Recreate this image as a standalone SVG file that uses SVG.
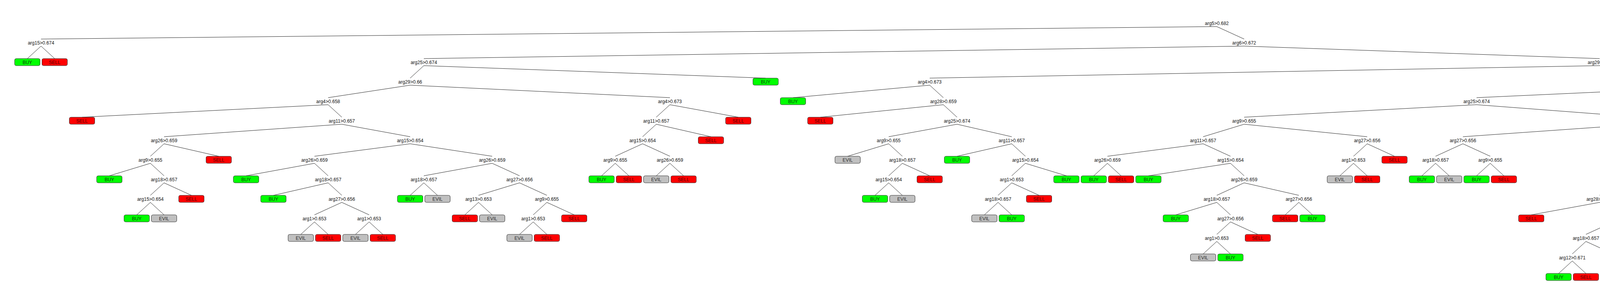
<svg xmlns="http://www.w3.org/2000/svg" width="6230" height="750" viewBox="0 0 6230 750">
<style>
.e line{stroke:#222;stroke-width:1}
text{font-family:"Liberation Sans",Arial,sans-serif;font-size:12px;text-anchor:middle}
.n text{fill:#111}
.lf rect{stroke:#333;stroke-width:1}
.buy rect{fill:#00ff00}
.buy text{fill:#0a3a0a}
.sell rect{fill:#ff0000}
.sell text{fill:#4d0000}
.evil rect{fill:#c0c0c0}
.evil text{fill:#2a2a2a}
</style>
<rect width="6230" height="750" fill="#fff"/>
<g id="connectors" class="e">
<line x1="3115" y1="68" x2="105" y2="100"/><line x1="3115" y1="68" x2="3185" y2="100"/>
<line x1="105" y1="118" x2="70" y2="150"/><line x1="105" y1="118" x2="140" y2="150"/>
<line x1="3185" y1="118" x2="1085" y2="150"/><line x1="3185" y1="118" x2="4095" y2="150"/>
<line x1="1085" y1="168" x2="1050" y2="200"/><line x1="1085" y1="168" x2="1960" y2="200"/>
<line x1="1050" y1="218" x2="840" y2="250"/><line x1="1050" y1="218" x2="1715" y2="250"/>
<line x1="840" y1="268" x2="210" y2="300"/><line x1="840" y1="268" x2="875" y2="300"/>
<line x1="875" y1="318" x2="420" y2="350"/><line x1="875" y1="318" x2="1050" y2="350"/>
<line x1="420" y1="368" x2="385" y2="400"/><line x1="420" y1="368" x2="560" y2="400"/>
<line x1="385" y1="418" x2="280" y2="450"/><line x1="385" y1="418" x2="420" y2="450"/>
<line x1="420" y1="468" x2="385" y2="500"/><line x1="420" y1="468" x2="490" y2="500"/>
<line x1="385" y1="518" x2="350" y2="550"/><line x1="385" y1="518" x2="420" y2="550"/>
<line x1="1050" y1="368" x2="805" y2="400"/><line x1="1050" y1="368" x2="1260" y2="400"/>
<line x1="805" y1="418" x2="630" y2="450"/><line x1="805" y1="418" x2="840" y2="450"/>
<line x1="840" y1="468" x2="700" y2="500"/><line x1="840" y1="468" x2="875" y2="500"/>
<line x1="875" y1="518" x2="805" y2="550"/><line x1="875" y1="518" x2="945" y2="550"/>
<line x1="805" y1="568" x2="770" y2="600"/><line x1="805" y1="568" x2="840" y2="600"/>
<line x1="945" y1="568" x2="910" y2="600"/><line x1="945" y1="568" x2="980" y2="600"/>
<line x1="1260" y1="418" x2="1085" y2="450"/><line x1="1260" y1="418" x2="1330" y2="450"/>
<line x1="1085" y1="468" x2="1050" y2="500"/><line x1="1085" y1="468" x2="1120" y2="500"/>
<line x1="1330" y1="468" x2="1225" y2="500"/><line x1="1330" y1="468" x2="1400" y2="500"/>
<line x1="1225" y1="518" x2="1190" y2="550"/><line x1="1225" y1="518" x2="1260" y2="550"/>
<line x1="1400" y1="518" x2="1365" y2="550"/><line x1="1400" y1="518" x2="1470" y2="550"/>
<line x1="1365" y1="568" x2="1330" y2="600"/><line x1="1365" y1="568" x2="1400" y2="600"/>
<line x1="1715" y1="268" x2="1680" y2="300"/><line x1="1715" y1="268" x2="1890" y2="300"/>
<line x1="1680" y1="318" x2="1645" y2="350"/><line x1="1680" y1="318" x2="1820" y2="350"/>
<line x1="1645" y1="368" x2="1575" y2="400"/><line x1="1645" y1="368" x2="1715" y2="400"/>
<line x1="1575" y1="418" x2="1540" y2="450"/><line x1="1575" y1="418" x2="1610" y2="450"/>
<line x1="1715" y1="418" x2="1680" y2="450"/><line x1="1715" y1="418" x2="1750" y2="450"/>
<line x1="4095" y1="168" x2="2380" y2="200"/><line x1="4095" y1="168" x2="4480" y2="200"/>
<line x1="2380" y1="218" x2="2030" y2="250"/><line x1="2380" y1="218" x2="2415" y2="250"/>
<line x1="2415" y1="268" x2="2100" y2="300"/><line x1="2415" y1="268" x2="2450" y2="300"/>
<line x1="2450" y1="318" x2="2275" y2="350"/><line x1="2450" y1="318" x2="2590" y2="350"/>
<line x1="2275" y1="368" x2="2170" y2="400"/><line x1="2275" y1="368" x2="2310" y2="400"/>
<line x1="2310" y1="418" x2="2275" y2="450"/><line x1="2310" y1="418" x2="2380" y2="450"/>
<line x1="2275" y1="468" x2="2240" y2="500"/><line x1="2275" y1="468" x2="2310" y2="500"/>
<line x1="2590" y1="368" x2="2450" y2="400"/><line x1="2590" y1="368" x2="2625" y2="400"/>
<line x1="2625" y1="418" x2="2590" y2="450"/><line x1="2625" y1="418" x2="2730" y2="450"/>
<line x1="2590" y1="468" x2="2555" y2="500"/><line x1="2590" y1="468" x2="2660" y2="500"/>
<line x1="2555" y1="518" x2="2520" y2="550"/><line x1="2555" y1="518" x2="2590" y2="550"/>
<line x1="4480" y1="218" x2="3780" y2="250"/><line x1="4480" y1="218" x2="5495" y2="250"/>
<line x1="3780" y1="268" x2="3185" y2="300"/><line x1="3780" y1="268" x2="4200" y2="300"/>
<line x1="3185" y1="318" x2="3080" y2="350"/><line x1="3185" y1="318" x2="3500" y2="350"/>
<line x1="3080" y1="368" x2="2835" y2="400"/><line x1="3080" y1="368" x2="3150" y2="400"/>
<line x1="2835" y1="418" x2="2800" y2="450"/><line x1="2835" y1="418" x2="2870" y2="450"/>
<line x1="3150" y1="418" x2="2940" y2="450"/><line x1="3150" y1="418" x2="3185" y2="450"/>
<line x1="3185" y1="468" x2="3115" y2="500"/><line x1="3185" y1="468" x2="3325" y2="500"/>
<line x1="3115" y1="518" x2="3010" y2="550"/><line x1="3115" y1="518" x2="3150" y2="550"/>
<line x1="3150" y1="568" x2="3115" y2="600"/><line x1="3150" y1="568" x2="3220" y2="600"/>
<line x1="3115" y1="618" x2="3080" y2="650"/><line x1="3115" y1="618" x2="3150" y2="650"/>
<line x1="3325" y1="518" x2="3290" y2="550"/><line x1="3325" y1="518" x2="3360" y2="550"/>
<line x1="3500" y1="368" x2="3465" y2="400"/><line x1="3500" y1="368" x2="3570" y2="400"/>
<line x1="3465" y1="418" x2="3430" y2="450"/><line x1="3465" y1="418" x2="3500" y2="450"/>
<line x1="4200" y1="318" x2="3745" y2="350"/><line x1="4200" y1="318" x2="4340" y2="350"/>
<line x1="3745" y1="368" x2="3675" y2="400"/><line x1="3745" y1="368" x2="3815" y2="400"/>
<line x1="3675" y1="418" x2="3640" y2="450"/><line x1="3675" y1="418" x2="3710" y2="450"/>
<line x1="3815" y1="418" x2="3780" y2="450"/><line x1="3815" y1="418" x2="3850" y2="450"/>
<line x1="4340" y1="368" x2="4305" y2="400"/><line x1="4340" y1="368" x2="4760" y2="400"/>
<line x1="4305" y1="418" x2="4130" y2="450"/><line x1="4305" y1="418" x2="4550" y2="450"/>
<line x1="4130" y1="468" x2="4095" y2="500"/><line x1="4130" y1="468" x2="4340" y2="500"/>
<line x1="4095" y1="518" x2="3920" y2="550"/><line x1="4095" y1="518" x2="4130" y2="550"/>
<line x1="4130" y1="568" x2="4060" y2="600"/><line x1="4130" y1="568" x2="4235" y2="600"/>
<line x1="4060" y1="618" x2="4025" y2="650"/><line x1="4060" y1="618" x2="4130" y2="650"/>
<line x1="4025" y1="668" x2="3990" y2="700"/><line x1="4025" y1="668" x2="4060" y2="700"/>
<line x1="4235" y1="618" x2="4200" y2="650"/><line x1="4235" y1="618" x2="4270" y2="650"/>
<line x1="4550" y1="468" x2="4515" y2="500"/><line x1="4550" y1="468" x2="4690" y2="500"/>
<line x1="4515" y1="518" x2="4410" y2="550"/><line x1="4515" y1="518" x2="4550" y2="550"/>
<line x1="4550" y1="568" x2="4515" y2="600"/><line x1="4550" y1="568" x2="4620" y2="600"/>
<line x1="4515" y1="618" x2="4480" y2="650"/><line x1="4515" y1="618" x2="4550" y2="650"/>
<line x1="5495" y1="268" x2="5005" y2="300"/><line x1="5495" y1="268" x2="5705" y2="300"/>
<line x1="5005" y1="318" x2="4970" y2="350"/><line x1="5005" y1="318" x2="5180" y2="350"/>
<line x1="4970" y1="368" x2="4830" y2="400"/><line x1="4970" y1="368" x2="5005" y2="400"/>
<line x1="5005" y1="418" x2="4970" y2="450"/><line x1="5005" y1="418" x2="5110" y2="450"/>
<line x1="4970" y1="468" x2="4900" y2="500"/><line x1="4970" y1="468" x2="5005" y2="500"/>
<line x1="5005" y1="518" x2="4970" y2="550"/><line x1="5005" y1="518" x2="5040" y2="550"/>
<line x1="5705" y1="318" x2="5460" y2="350"/><line x1="5705" y1="318" x2="5950" y2="350"/>
<line x1="5460" y1="368" x2="5250" y2="400"/><line x1="5460" y1="368" x2="5495" y2="400"/>
<line x1="5495" y1="418" x2="5320" y2="450"/><line x1="5495" y1="418" x2="5530" y2="450"/>
<line x1="5530" y1="468" x2="5425" y2="500"/><line x1="5530" y1="468" x2="5600" y2="500"/>
<line x1="5425" y1="518" x2="5390" y2="550"/><line x1="5425" y1="518" x2="5460" y2="550"/>
<line x1="5600" y1="518" x2="5530" y2="550"/><line x1="5600" y1="518" x2="5635" y2="550"/>
<line x1="5635" y1="568" x2="5600" y2="600"/><line x1="5635" y1="568" x2="5670" y2="600"/>
<line x1="5950" y1="368" x2="5775" y2="400"/><line x1="5950" y1="368" x2="6020" y2="400"/>
<line x1="5775" y1="418" x2="5740" y2="450"/><line x1="5775" y1="418" x2="5810" y2="450"/>
<line x1="6020" y1="418" x2="5950" y2="450"/><line x1="6020" y1="418" x2="6125" y2="450"/>
<line x1="5950" y1="468" x2="5880" y2="500"/><line x1="5950" y1="468" x2="5985" y2="500"/>
<line x1="5985" y1="518" x2="5950" y2="550"/><line x1="5985" y1="518" x2="6020" y2="550"/>
<line x1="6125" y1="468" x2="6090" y2="500"/><line x1="6125" y1="468" x2="6160" y2="500"/>
</g>
<g id="splits" class="n">
<g id="n0"><text x="3115" y="64">arg5&gt;0.682</text></g>
<g id="n1"><text x="105" y="114">arg15&gt;0.674</text></g>
<g id="n2"><text x="3185" y="114">arg6&gt;0.672</text></g>
<g id="n3"><text x="1085" y="164">arg25&gt;0.674</text></g>
<g id="n4"><text x="1050" y="214">arg29&gt;0.66</text></g>
<g id="n5"><text x="840" y="264">arg4&gt;0.658</text></g>
<g id="n6"><text x="875" y="314">arg11&gt;0.657</text></g>
<g id="n7"><text x="420" y="364">arg26&gt;0.659</text></g>
<g id="n8"><text x="385" y="414">arg9&gt;0.655</text></g>
<g id="n9"><text x="420" y="464">arg18&gt;0.657</text></g>
<g id="n10"><text x="385" y="514">arg15&gt;0.654</text></g>
<g id="n11"><text x="1050" y="364">arg15&gt;0.654</text></g>
<g id="n12"><text x="805" y="414">arg26&gt;0.659</text></g>
<g id="n13"><text x="840" y="464">arg18&gt;0.657</text></g>
<g id="n14"><text x="875" y="514">arg27&gt;0.656</text></g>
<g id="n15"><text x="805" y="564">arg1&gt;0.653</text></g>
<g id="n16"><text x="945" y="564">arg1&gt;0.653</text></g>
<g id="n17"><text x="1260" y="414">arg26&gt;0.659</text></g>
<g id="n18"><text x="1085" y="464">arg18&gt;0.657</text></g>
<g id="n19"><text x="1330" y="464">arg27&gt;0.656</text></g>
<g id="n20"><text x="1225" y="514">arg13&gt;0.653</text></g>
<g id="n21"><text x="1400" y="514">arg9&gt;0.655</text></g>
<g id="n22"><text x="1365" y="564">arg1&gt;0.653</text></g>
<g id="n23"><text x="1715" y="264">arg4&gt;0.673</text></g>
<g id="n24"><text x="1680" y="314">arg11&gt;0.657</text></g>
<g id="n25"><text x="1645" y="364">arg15&gt;0.654</text></g>
<g id="n26"><text x="1575" y="414">arg9&gt;0.655</text></g>
<g id="n27"><text x="1715" y="414">arg26&gt;0.659</text></g>
<g id="n28"><text x="4095" y="164">arg29&gt;0.66</text></g>
<g id="n29"><text x="2380" y="214">arg4&gt;0.673</text></g>
<g id="n30"><text x="2415" y="264">arg28&gt;0.659</text></g>
<g id="n31"><text x="2450" y="314">arg25&gt;0.674</text></g>
<g id="n32"><text x="2275" y="364">arg9&gt;0.655</text></g>
<g id="n33"><text x="2310" y="414">arg18&gt;0.657</text></g>
<g id="n34"><text x="2275" y="464">arg15&gt;0.654</text></g>
<g id="n35"><text x="2590" y="364">arg11&gt;0.657</text></g>
<g id="n36"><text x="2625" y="414">arg15&gt;0.654</text></g>
<g id="n37"><text x="2590" y="464">arg1&gt;0.653</text></g>
<g id="n38"><text x="2555" y="514">arg18&gt;0.657</text></g>
<g id="n39"><text x="4480" y="214">arg4&gt;0.658</text></g>
<g id="n40"><text x="3780" y="264">arg25&gt;0.674</text></g>
<g id="n41"><text x="3185" y="314">arg9&gt;0.655</text></g>
<g id="n42"><text x="3080" y="364">arg11&gt;0.657</text></g>
<g id="n43"><text x="2835" y="414">arg26&gt;0.659</text></g>
<g id="n44"><text x="3150" y="414">arg15&gt;0.654</text></g>
<g id="n45"><text x="3185" y="464">arg26&gt;0.659</text></g>
<g id="n46"><text x="3115" y="514">arg18&gt;0.657</text></g>
<g id="n47"><text x="3150" y="564">arg27&gt;0.656</text></g>
<g id="n48"><text x="3115" y="614">arg1&gt;0.653</text></g>
<g id="n49"><text x="3325" y="514">arg27&gt;0.656</text></g>
<g id="n50"><text x="3500" y="364">arg27&gt;0.656</text></g>
<g id="n51"><text x="3465" y="414">arg1&gt;0.653</text></g>
<g id="n52"><text x="4200" y="314">arg11&gt;0.657</text></g>
<g id="n53"><text x="3745" y="364">arg27&gt;0.656</text></g>
<g id="n54"><text x="3675" y="414">arg18&gt;0.657</text></g>
<g id="n55"><text x="3815" y="414">arg9&gt;0.655</text></g>
<g id="n56"><text x="4340" y="364">arg15&gt;0.654</text></g>
<g id="n57"><text x="4305" y="414">arg27&gt;0.656</text></g>
<g id="n58"><text x="4130" y="464">arg1&gt;0.653</text></g>
<g id="n59"><text x="4095" y="514">arg28&gt;0.659</text></g>
<g id="n60"><text x="4130" y="564">arg9&gt;0.655</text></g>
<g id="n61"><text x="4060" y="614">arg18&gt;0.657</text></g>
<g id="n62"><text x="4025" y="664">arg12&gt;0.671</text></g>
<g id="n63"><text x="4235" y="614">arg18&gt;0.657</text></g>
<g id="n64"><text x="4550" y="464">arg26&gt;0.659</text></g>
<g id="n65"><text x="4515" y="514">arg9&gt;0.655</text></g>
<g id="n66"><text x="4550" y="564">arg1&gt;0.653</text></g>
<g id="n67"><text x="4515" y="614">arg18&gt;0.657</text></g>
<g id="n68"><text x="5495" y="264">arg11&gt;0.657</text></g>
<g id="n69"><text x="5005" y="314">arg26&gt;0.659</text></g>
<g id="n70"><text x="4970" y="364">arg9&gt;0.655</text></g>
<g id="n71"><text x="5005" y="414">arg18&gt;0.657</text></g>
<g id="n72"><text x="4970" y="464">arg15&gt;0.654</text></g>
<g id="n73"><text x="5005" y="514">arg13&gt;0.653</text></g>
<g id="n74"><text x="5705" y="314">arg15&gt;0.654</text></g>
<g id="n75"><text x="5460" y="364">arg26&gt;0.659</text></g>
<g id="n76"><text x="5495" y="414">arg18&gt;0.657</text></g>
<g id="n77"><text x="5530" y="464">arg27&gt;0.656</text></g>
<g id="n78"><text x="5425" y="514">arg1&gt;0.653</text></g>
<g id="n79"><text x="5600" y="514">arg25&gt;0.674</text></g>
<g id="n80"><text x="5635" y="564">arg13&gt;0.653</text></g>
<g id="n81"><text x="5950" y="364">arg26&gt;0.659</text></g>
<g id="n82"><text x="5775" y="414">arg18&gt;0.657</text></g>
<g id="n83"><text x="6020" y="414">arg27&gt;0.656</text></g>
<g id="n84"><text x="5950" y="464">arg13&gt;0.653</text></g>
<g id="n85"><text x="5985" y="514">arg1&gt;0.653</text></g>
<g id="n86"><text x="6125" y="464">arg9&gt;0.655</text></g>
</g>
<g id="leaves" class="lf">
<g id="f1" class="buy"><rect x="37.5" y="150" width="65" height="18" rx="4"/><text x="70" y="164">BUY</text></g>
<g id="f2" class="sell"><rect x="107.5" y="150" width="65" height="18" rx="4"/><text x="140" y="164">SELL</text></g>
<g id="f3" class="sell"><rect x="177.5" y="300" width="65" height="18" rx="4"/><text x="210" y="314">SELL</text></g>
<g id="f4" class="buy"><rect x="247.5" y="450" width="65" height="18" rx="4"/><text x="280" y="464">BUY</text></g>
<g id="f5" class="buy"><rect x="317.5" y="550" width="65" height="18" rx="4"/><text x="350" y="564">BUY</text></g>
<g id="f6" class="evil"><rect x="387.5" y="550" width="65" height="18" rx="4"/><text x="420" y="564">EVIL</text></g>
<g id="f7" class="sell"><rect x="457.5" y="500" width="65" height="18" rx="4"/><text x="490" y="514">SELL</text></g>
<g id="f8" class="sell"><rect x="527.5" y="400" width="65" height="18" rx="4"/><text x="560" y="414">SELL</text></g>
<g id="f9" class="buy"><rect x="597.5" y="450" width="65" height="18" rx="4"/><text x="630" y="464">BUY</text></g>
<g id="f10" class="buy"><rect x="667.5" y="500" width="65" height="18" rx="4"/><text x="700" y="514">BUY</text></g>
<g id="f11" class="evil"><rect x="737.5" y="600" width="65" height="18" rx="4"/><text x="770" y="614">EVIL</text></g>
<g id="f12" class="sell"><rect x="807.5" y="600" width="65" height="18" rx="4"/><text x="840" y="614">SELL</text></g>
<g id="f13" class="evil"><rect x="877.5" y="600" width="65" height="18" rx="4"/><text x="910" y="614">EVIL</text></g>
<g id="f14" class="sell"><rect x="947.5" y="600" width="65" height="18" rx="4"/><text x="980" y="614">SELL</text></g>
<g id="f15" class="buy"><rect x="1017.5" y="500" width="65" height="18" rx="4"/><text x="1050" y="514">BUY</text></g>
<g id="f16" class="evil"><rect x="1087.5" y="500" width="65" height="18" rx="4"/><text x="1120" y="514">EVIL</text></g>
<g id="f17" class="sell"><rect x="1157.5" y="550" width="65" height="18" rx="4"/><text x="1190" y="564">SELL</text></g>
<g id="f18" class="evil"><rect x="1227.5" y="550" width="65" height="18" rx="4"/><text x="1260" y="564">EVIL</text></g>
<g id="f19" class="evil"><rect x="1297.5" y="600" width="65" height="18" rx="4"/><text x="1330" y="614">EVIL</text></g>
<g id="f20" class="sell"><rect x="1367.5" y="600" width="65" height="18" rx="4"/><text x="1400" y="614">SELL</text></g>
<g id="f21" class="sell"><rect x="1437.5" y="550" width="65" height="18" rx="4"/><text x="1470" y="564">SELL</text></g>
<g id="f22" class="buy"><rect x="1507.5" y="450" width="65" height="18" rx="4"/><text x="1540" y="464">BUY</text></g>
<g id="f23" class="sell"><rect x="1577.5" y="450" width="65" height="18" rx="4"/><text x="1610" y="464">SELL</text></g>
<g id="f24" class="evil"><rect x="1647.5" y="450" width="65" height="18" rx="4"/><text x="1680" y="464">EVIL</text></g>
<g id="f25" class="sell"><rect x="1717.5" y="450" width="65" height="18" rx="4"/><text x="1750" y="464">SELL</text></g>
<g id="f26" class="sell"><rect x="1787.5" y="350" width="65" height="18" rx="4"/><text x="1820" y="364">SELL</text></g>
<g id="f27" class="sell"><rect x="1857.5" y="300" width="65" height="18" rx="4"/><text x="1890" y="314">SELL</text></g>
<g id="f28" class="buy"><rect x="1927.5" y="200" width="65" height="18" rx="4"/><text x="1960" y="214">BUY</text></g>
<g id="f29" class="buy"><rect x="1997.5" y="250" width="65" height="18" rx="4"/><text x="2030" y="264">BUY</text></g>
<g id="f30" class="sell"><rect x="2067.5" y="300" width="65" height="18" rx="4"/><text x="2100" y="314">SELL</text></g>
<g id="f31" class="evil"><rect x="2137.5" y="400" width="65" height="18" rx="4"/><text x="2170" y="414">EVIL</text></g>
<g id="f32" class="buy"><rect x="2207.5" y="500" width="65" height="18" rx="4"/><text x="2240" y="514">BUY</text></g>
<g id="f33" class="evil"><rect x="2277.5" y="500" width="65" height="18" rx="4"/><text x="2310" y="514">EVIL</text></g>
<g id="f34" class="sell"><rect x="2347.5" y="450" width="65" height="18" rx="4"/><text x="2380" y="464">SELL</text></g>
<g id="f35" class="buy"><rect x="2417.5" y="400" width="65" height="18" rx="4"/><text x="2450" y="414">BUY</text></g>
<g id="f36" class="evil"><rect x="2487.5" y="550" width="65" height="18" rx="4"/><text x="2520" y="564">EVIL</text></g>
<g id="f37" class="buy"><rect x="2557.5" y="550" width="65" height="18" rx="4"/><text x="2590" y="564">BUY</text></g>
<g id="f38" class="sell"><rect x="2627.5" y="500" width="65" height="18" rx="4"/><text x="2660" y="514">SELL</text></g>
<g id="f39" class="buy"><rect x="2697.5" y="450" width="65" height="18" rx="4"/><text x="2730" y="464">BUY</text></g>
<g id="f40" class="buy"><rect x="2767.5" y="450" width="65" height="18" rx="4"/><text x="2800" y="464">BUY</text></g>
<g id="f41" class="sell"><rect x="2837.5" y="450" width="65" height="18" rx="4"/><text x="2870" y="464">SELL</text></g>
<g id="f42" class="buy"><rect x="2907.5" y="450" width="65" height="18" rx="4"/><text x="2940" y="464">BUY</text></g>
<g id="f43" class="buy"><rect x="2977.5" y="550" width="65" height="18" rx="4"/><text x="3010" y="564">BUY</text></g>
<g id="f44" class="evil"><rect x="3047.5" y="650" width="65" height="18" rx="4"/><text x="3080" y="664">EVIL</text></g>
<g id="f45" class="buy"><rect x="3117.5" y="650" width="65" height="18" rx="4"/><text x="3150" y="664">BUY</text></g>
<g id="f46" class="sell"><rect x="3187.5" y="600" width="65" height="18" rx="4"/><text x="3220" y="614">SELL</text></g>
<g id="f47" class="sell"><rect x="3257.5" y="550" width="65" height="18" rx="4"/><text x="3290" y="564">SELL</text></g>
<g id="f48" class="buy"><rect x="3327.5" y="550" width="65" height="18" rx="4"/><text x="3360" y="564">BUY</text></g>
<g id="f49" class="evil"><rect x="3397.5" y="450" width="65" height="18" rx="4"/><text x="3430" y="464">EVIL</text></g>
<g id="f50" class="sell"><rect x="3467.5" y="450" width="65" height="18" rx="4"/><text x="3500" y="464">SELL</text></g>
<g id="f51" class="sell"><rect x="3537.5" y="400" width="65" height="18" rx="4"/><text x="3570" y="414">SELL</text></g>
<g id="f52" class="buy"><rect x="3607.5" y="450" width="65" height="18" rx="4"/><text x="3640" y="464">BUY</text></g>
<g id="f53" class="evil"><rect x="3677.5" y="450" width="65" height="18" rx="4"/><text x="3710" y="464">EVIL</text></g>
<g id="f54" class="buy"><rect x="3747.5" y="450" width="65" height="18" rx="4"/><text x="3780" y="464">BUY</text></g>
<g id="f55" class="sell"><rect x="3817.5" y="450" width="65" height="18" rx="4"/><text x="3850" y="464">SELL</text></g>
<g id="f56" class="sell"><rect x="3887.5" y="550" width="65" height="18" rx="4"/><text x="3920" y="564">SELL</text></g>
<g id="f57" class="buy"><rect x="3957.5" y="700" width="65" height="18" rx="4"/><text x="3990" y="714">BUY</text></g>
<g id="f58" class="sell"><rect x="4027.5" y="700" width="65" height="18" rx="4"/><text x="4060" y="714">SELL</text></g>
<g id="f59" class="evil"><rect x="4097.5" y="650" width="65" height="18" rx="4"/><text x="4130" y="664">EVIL</text></g>
<g id="f60" class="evil"><rect x="4167.5" y="650" width="65" height="18" rx="4"/><text x="4200" y="664">EVIL</text></g>
<g id="f61" class="sell"><rect x="4237.5" y="650" width="65" height="18" rx="4"/><text x="4270" y="664">SELL</text></g>
<g id="f62" class="buy"><rect x="4307.5" y="500" width="65" height="18" rx="4"/><text x="4340" y="514">BUY</text></g>
<g id="f63" class="sell"><rect x="4377.5" y="550" width="65" height="18" rx="4"/><text x="4410" y="564">SELL</text></g>
<g id="f64" class="sell"><rect x="4447.5" y="650" width="65" height="18" rx="4"/><text x="4480" y="664">SELL</text></g>
<g id="f65" class="buy"><rect x="4517.5" y="650" width="65" height="18" rx="4"/><text x="4550" y="664">BUY</text></g>
<g id="f66" class="buy"><rect x="4587.5" y="600" width="65" height="18" rx="4"/><text x="4620" y="614">BUY</text></g>
<g id="f67" class="buy"><rect x="4657.5" y="500" width="65" height="18" rx="4"/><text x="4690" y="514">BUY</text></g>
<g id="f68" class="buy"><rect x="4727.5" y="400" width="65" height="18" rx="4"/><text x="4760" y="414">BUY</text></g>
<g id="f69" class="buy"><rect x="4797.5" y="400" width="65" height="18" rx="4"/><text x="4830" y="414">BUY</text></g>
<g id="f70" class="buy"><rect x="4867.5" y="500" width="65" height="18" rx="4"/><text x="4900" y="514">BUY</text></g>
<g id="f71" class="sell"><rect x="4937.5" y="550" width="65" height="18" rx="4"/><text x="4970" y="564">SELL</text></g>
<g id="f72" class="buy"><rect x="5007.5" y="550" width="65" height="18" rx="4"/><text x="5040" y="564">BUY</text></g>
<g id="f73" class="sell"><rect x="5077.5" y="450" width="65" height="18" rx="4"/><text x="5110" y="464">SELL</text></g>
<g id="f74" class="sell"><rect x="5147.5" y="350" width="65" height="18" rx="4"/><text x="5180" y="364">SELL</text></g>
<g id="f75" class="buy"><rect x="5217.5" y="400" width="65" height="18" rx="4"/><text x="5250" y="414">BUY</text></g>
<g id="f76" class="buy"><rect x="5287.5" y="450" width="65" height="18" rx="4"/><text x="5320" y="464">BUY</text></g>
<g id="f77" class="evil"><rect x="5357.5" y="550" width="65" height="18" rx="4"/><text x="5390" y="564">EVIL</text></g>
<g id="f78" class="sell"><rect x="5427.5" y="550" width="65" height="18" rx="4"/><text x="5460" y="564">SELL</text></g>
<g id="f79" class="sell"><rect x="5497.5" y="550" width="65" height="18" rx="4"/><text x="5530" y="564">SELL</text></g>
<g id="f80" class="sell"><rect x="5567.5" y="600" width="65" height="18" rx="4"/><text x="5600" y="614">SELL</text></g>
<g id="f81" class="buy"><rect x="5637.5" y="600" width="65" height="18" rx="4"/><text x="5670" y="614">BUY</text></g>
<g id="f82" class="buy"><rect x="5707.5" y="450" width="65" height="18" rx="4"/><text x="5740" y="464">BUY</text></g>
<g id="f83" class="evil"><rect x="5777.5" y="450" width="65" height="18" rx="4"/><text x="5810" y="464">EVIL</text></g>
<g id="f84" class="sell"><rect x="5847.5" y="500" width="65" height="18" rx="4"/><text x="5880" y="514">SELL</text></g>
<g id="f85" class="evil"><rect x="5917.5" y="550" width="65" height="18" rx="4"/><text x="5950" y="564">EVIL</text></g>
<g id="f86" class="sell"><rect x="5987.5" y="550" width="65" height="18" rx="4"/><text x="6020" y="564">SELL</text></g>
<g id="f87" class="buy"><rect x="6057.5" y="500" width="65" height="18" rx="4"/><text x="6090" y="514">BUY</text></g>
<g id="f88" class="sell"><rect x="6127.5" y="500" width="65" height="18" rx="4"/><text x="6160" y="514">SELL</text></g>
</g>
</svg>
